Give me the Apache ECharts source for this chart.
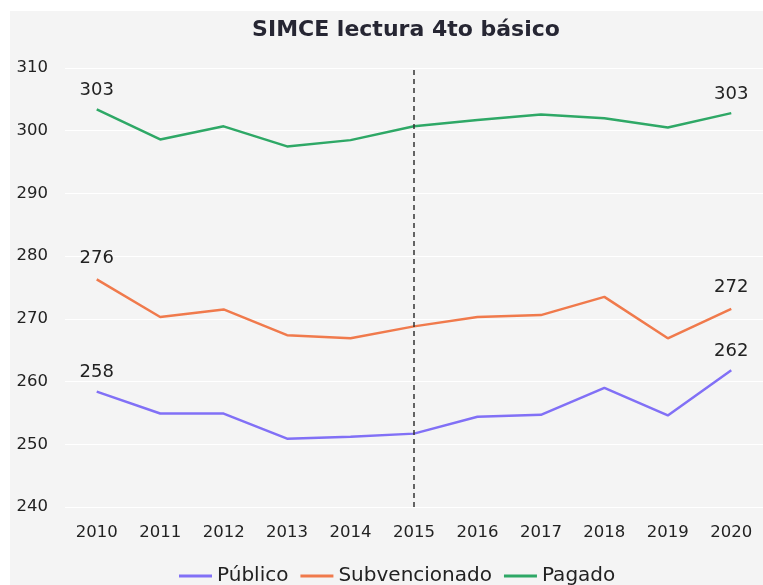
<!DOCTYPE html>
<html>
<head>
<meta charset="utf-8">
<script src="https://cdn.jsdelivr.net/npm/echarts@6/dist/echarts.min.js"></script>
<style>
html,body{margin:0;padding:0;background:#fff;}
#chart{width:763px;height:585px;}
</style>
</head>
<body>
<div id="chart"></div>
<script>
const years = ['2010','2011','2012','2013','2014','2015','2016','2017','2018','2019','2020'];
const publico = [258.4, 254.9, 254.9, 250.9, 251.2, 251.7, 254.4, 254.7, 259.0, 254.6, 261.8];
const subvencionado = [276.3, 270.3, 271.5, 267.4, 266.9, 268.8, 270.3, 270.6, 273.5, 266.9, 271.6];
const pagado = [303.4, 298.6, 300.7, 297.5, 298.5, 300.7, 301.7, 302.6, 302.0, 300.5, 302.8];
const yTicks = [240, 250, 260, 270, 280, 290, 300, 310];
const markYear = '2015';

const FONT = 'DejaVu Sans';
const chart = echarts.init(document.getElementById('chart'), null, {renderer:'canvas'});

function mkSeries(name, data, color, labelDist) {
  return {
    name: name,
    type: 'line',
    data: data,
    symbol: 'circle',
    symbolSize: 0,
    showSymbol: true,
    showAllSymbol: true,
    lineStyle: {color: color, width: 2.5},
    itemStyle: {color: color},
    label: {
      show: true,
      position: 'top',
      distance: labelDist,
      fontFamily: FONT,
      fontSize: 18,
      color: '#222',
      formatter: function (p) {
        return (p.dataIndex === 0 || p.dataIndex === data.length - 1) ? String(Math.round(p.value)) : '';
      }
    },
    emphasis: {disabled: true}
  };
}

const series = [
  mkSeries('Público', publico, '#8170F6', 10),
  mkSeries('Subvencionado', subvencionado, '#F07A4C', 12),
  mkSeries('Pagado', pagado, '#2EA866', 10)
];
series[0].markLine = {
  silent: true,
  symbol: 'none',
  label: {show: false},
  lineStyle: {color: '#333', type: [5, 4], width: 1.5},
  data: [{xAxis: markYear}]
};

chart.setOption({
  animation: false,
  backgroundColor: '#fff',
  graphic: [{
    type: 'rect', left: 10, top: 11, z: -100,
    shape: {width: 753, height: 574},
    style: {fill: '#f4f4f4'}
  }],
  title: {
    text: 'SIMCE lectura 4to básico',
    left: 401, top: 14,
    textAlign: 'center',
    textStyle: {fontFamily: FONT, fontSize: 22, fontWeight: 'bold', color: '#262633'}
  },
  legend: {
    data: ['Público', 'Subvencionado', 'Pagado'],
    left: 174, top: 561,
    icon: 'rect',
    itemWidth: 33, itemHeight: 3,
    itemGap: 12,
    textStyle: {fontFamily: FONT, fontSize: 20, color: '#222'}
  },
  grid: {left: 65, top: 68, width: 702, height: 439, containLabel: false},
  xAxis: {
    type: 'category',
    data: years,
    boundaryGap: true,
    axisLine: {show: false},
    axisTick: {show: false},
    axisLabel: {fontFamily: FONT, fontSize: 16.5, color: '#222', margin: 17}
  },
  yAxis: {
    type: 'value',
    min: yTicks[0], max: yTicks[yTicks.length - 1], interval: 10,
    axisLine: {show: false},
    axisTick: {show: false},
    splitLine: {show: true, lineStyle: {color: '#ffffff', width: 1}},
    axisLabel: {fontFamily: FONT, fontSize: 16.5, color: '#222', margin: 17}
  },
  series: series
});
</script>
</body>
</html>
